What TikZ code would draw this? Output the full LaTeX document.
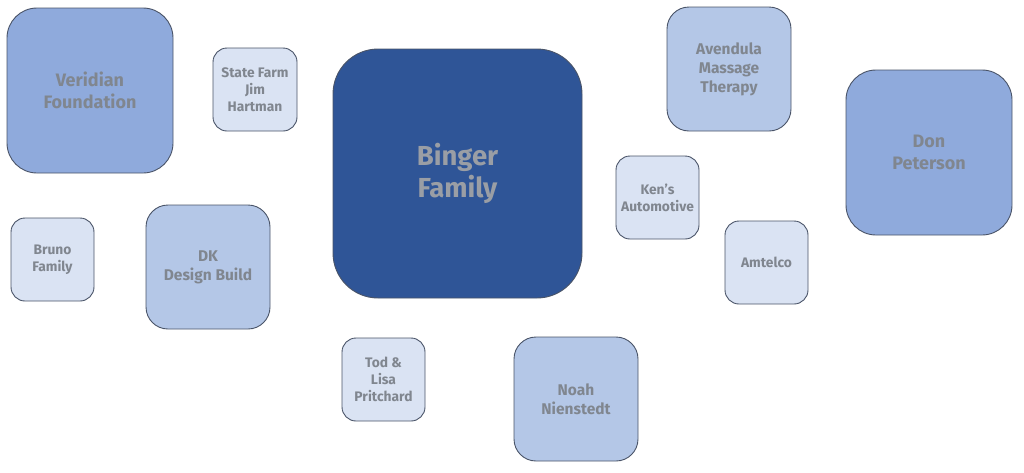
\documentclass[tikz,border=0pt]{standalone}
\usepackage{fontspec}
\setmainfont{Fira Sans}
\definecolor{dark}{HTML}{2F5597}
\definecolor{med}{HTML}{8FAADC}
\definecolor{lmed}{HTML}{B4C7E7}
\definecolor{light}{HTML}{DAE3F3}
\definecolor{edge}{HTML}{4A5468}
\definecolor{txt}{HTML}{80868F}
\tikzset{
  box/.style={draw=edge, line width=0.9pt, text=txt, align=center, font=\bfseries, inner sep=0pt},
  big/.style={box, minimum width=166pt, minimum height=165pt, rounded corners=30pt, fill=med, font=\bfseries\fontsize{18}{22}\selectfont},
  mid/.style={box, minimum width=124pt, minimum height=124pt, rounded corners=22pt, fill=lmed, font=\bfseries\fontsize{15.5}{19}\selectfont},
  small/.style={box, minimum width=83pt, minimum height=83pt, rounded corners=14pt, fill=light, font=\bfseries\fontsize{13.8}{17}\selectfont},
}
\begin{document}
\begin{tikzpicture}[x=1pt,y=-1pt]
\useasboundingbox (0,0) rectangle (1024,472);
\node[big] (ver) at (90,90.5) {Veridian\\Foundation};
\node[small, minimum width=84pt] (sf) at (255,89.5) {State Farm\\Jim\\Hartman};
\node[box, minimum width=249pt, minimum height=249pt, rounded corners=45pt, fill=dark, text=txt!80!white, font=\bfseries\fontsize{27.5}{32}\selectfont] (bin) at (457.5,173.5) {Binger\\Family};
\node[mid] (ave) at (729,69) {Avendula\\Massage\\Therapy};
\node[big] (don) at (929,152.5) {Don\\Peterson};
\node[small] (ken) at (657.5,197.5) {Ken's\\Automotive};
\node[small] (amt) at (766.5,262.5) {Amtelco};
\node[small] (bru) at (52.5,259.5) {Bruno\\Family};
\node[mid] (dk) at (208,267) {DK\\Design Build};
\node[small] (tod) at (383.5,379.5) {Tod \&\\Lisa\\Pritchard};
\node[mid] (noah) at (576,399) {Noah\\Nienstedt};
\end{tikzpicture}
\end{document}
